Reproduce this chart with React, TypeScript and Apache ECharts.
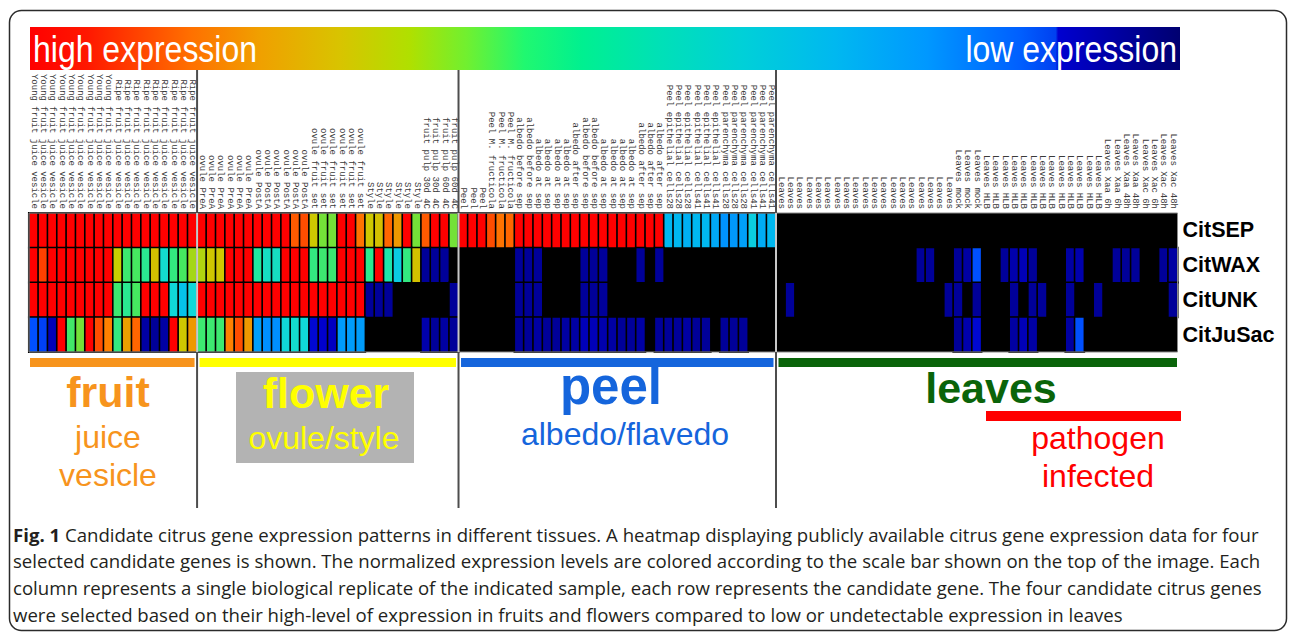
import React, { useEffect, useRef } from "react";
import * as echarts from "echarts";

// "not detected" cells are drawn black
const ND = null;

const genes = ["CitSEP", "CitWAX", "CitUNK", "CitJuSac"];

const rep = (s: string, n: number): string[] => Array(n).fill(s);

const fruitLabels = [...rep("Young fruit juice vesicle", 9), ...rep("Ripe fruit juice vesicle", 9)];
const flowerLabels = [
  ...rep("ovule PreA", 6),
  ...rep("ovule PostA", 6),
  ...rep("ovule fruit set", 6),
  ...rep("Style", 6),
  "fruit pulp 30d 4C", "fruit pulp 30d 4C", "fruit pulp 60d 4C", "fruit pulp 60d 4C",
];
const peelLabels = [
  "Peel", "Peel", "Peel",
  "Peel M. fructicola", "Peel M. fructicola", "Peel M. fructicola",
  "albedo before sep", "albedo before sep", "albedo at sep", "albedo at sep", "albedo at sep", "albedo at sep",
  "albedo after sep", "albedo before sep", "albedo before sep", "albedo at sep", "albedo at sep", "albedo at sep",
  "albedo at sep", "albedo after sep", "albedo after sep", "albedo after sep",
  ...rep("Peel epithelial cells28", 3),
  ...rep("Peel epithelial cells41", 3),
  ...rep("Peel parenchyma cells28", 3),
  ...rep("Peel parenchyma cells41", 3),
];
const leavesLabels = [
  ...rep("Leaves", 19),
  ...rep("Leaves mock", 3),
  ...rep("Leaves HLB", 13),
  "Leaves Xaa 6h", "Leaves Xaa 6h", "Leaves Xaa 48h", "Leaves Xaa 48h",
  "Leaves Xac 6h", "Leaves Xac 6h", "Leaves Xac 48h", "Leaves Xac 48h",
];
const sampleLabels = [...fruitLabels, ...flowerLabels, ...peelLabels, ...leavesLabels];

// normalized expression (0 = lowest, 100 = highest)
const fruitSEP = [100, 100, 100, 100, 100, 100, 100, 100, 100, 100, 100, 100, 100, 100, 100, 100, 100, 100];
const fruitWAX = [100, 95, 100, 100, 100, 100, 100, 100, 100, 80, 66, 68, 62, 82, 52, 64, 68, 77];
const fruitUNK = [100, 100, 100, 100, 100, 100, 100, 100, 100, 66, 62, 68, 100, 100, 100, 50, 43, 50];
const fruitJuSac = [20, 18, 8, 100, 67, 73, 100, 94, 90, 64, 86, 92, 6, 5, 6, 100, 81, 87];

const flowerSEP = [100, 100, 100, 100, 100, 100, 100, 100, 100, 100, 93, 94, 81, 73, 73, 100, 100, 91, 81, 82, 92, 87, 100, 73, 93, 100, 100, 73];
const flowerWAX = [78, 81, 81, 100, 100, 100, 60, 54, 54, 100, 100, 100, 64, 66, 66, 100, 100, 100, 62, 100, 58, 46, 64, 82, 5, 5, 5, ND];
const flowerUNK = [100, 100, 100, 100, 100, 100, 100, 100, 100, 100, 100, 100, 100, 100, 100, 100, 100, 100, 5, 5, 5, ND, ND, ND, ND, ND, ND, 5];
const flowerJuSac = [66, 66, 66, 90, 94, 87, 34, 30, 30, 50, 52, 50, 11, 10, 9, 33, 33, 33, ND, ND, ND, ND, ND, ND, 7, 5, 6, 5];

const peelSEP = [100, 100, 100, 94, 91, 92, 100, 100, 100, 100, 100, 100, 100, 100, 100, 100, 100, 100, 100, 100, 100, 100, 40, 40, 38, 40, 40, 36, 31, 32, 34, 47, 37, 40];
const peelWAX = [ND, ND, ND, ND, ND, ND, 5, 5, 5, ND, ND, ND, ND, 5, 5, 5, ND, ND, ND, 5, ND, 5, ND, ND, ND, ND, ND, ND, ND, ND, ND, ND, ND, ND];
const peelUNK = [ND, ND, ND, ND, ND, ND, 5, 5, 5, ND, ND, ND, ND, 5, 5, 5, ND, ND, ND, ND, ND, ND, ND, ND, ND, ND, ND, ND, ND, ND, ND, ND, ND, ND];
const peelJuSac = [ND, ND, ND, ND, ND, ND, 5, 5, 6, 5, 5, 6, 6, 8, 8, 7, 6, 5, 5, 6, ND, 5, 5, 5, 6, 5, 5, ND, 5, 5, 5, ND, ND, ND];

const leavesSEP = [ND, ND, ND, ND, ND, ND, ND, ND, ND, ND, ND, ND, ND, ND, ND, ND, ND, ND, ND, ND, ND, ND, ND, ND, ND, ND, ND, ND, ND, ND, ND, ND, ND, ND, ND, ND, ND, ND, ND, ND, ND, ND, ND];
const leavesWAX = [ND, ND, ND, ND, ND, ND, ND, ND, ND, ND, ND, ND, ND, ND, ND, 5, 5, ND, ND, 5, 6, 20, ND, ND, 5, 7, 8, 5, ND, ND, ND, 6, 7, ND, ND, ND, 5, 5, 5, ND, ND, 5, 6];
const leavesUNK = [ND, 5, ND, ND, ND, ND, ND, ND, ND, ND, ND, ND, ND, ND, ND, ND, ND, ND, 5, 5, ND, 5, ND, ND, ND, 5, ND, 5, 5, ND, ND, 5, ND, ND, 5, ND, ND, ND, ND, ND, ND, ND, 5];
const leavesJuSac = [ND, ND, ND, ND, ND, ND, ND, ND, ND, ND, ND, ND, ND, ND, ND, ND, ND, ND, ND, 5, 7, 11, ND, ND, ND, 6, 8, 6, ND, ND, ND, 6, 20, ND, ND, ND, ND, ND, ND, ND, ND, ND, ND];

const rows = [
  [...fruitSEP, ...flowerSEP, ...peelSEP, ...leavesSEP],
  [...fruitWAX, ...flowerWAX, ...peelWAX, ...leavesWAX],
  [...fruitUNK, ...flowerUNK, ...peelUNK, ...leavesUNK],
  [...fruitJuSac, ...flowerJuSac, ...peelJuSac, ...leavesJuSac],
];

const sections = [
  { title: "fruit", sub: ["juice", "vesicle"], count: fruitLabels.length, color: "#f7941d" },
  { title: "flower", sub: ["ovule/style"], count: flowerLabels.length, color: "#ffff00" },
  { title: "peel", sub: ["albedo/flavedo"], count: peelLabels.length, color: "#1565dc" },
  { title: "leaves", sub: [], count: leavesLabels.length, color: "#0a640a" },
];

const captionLines = [
  "{b|Fig. 1} Candidate citrus gene expression patterns in different tissues. A heatmap displaying publicly available citrus gene expression data for four",
  "selected candidate genes is shown. The normalized expression levels are colored according to the scale bar shown on the top of the image. Each",
  "column represents a single biological replicate of the indicated sample, each row represents the candidate gene. The four candidate citrus genes",
  "were selected based on their high-level of expression in fruits and flowers compared to low or undetectable expression in leaves",
];

const scaleColors = ["#000066", "#0000cc", "#0050ff", "#0090ff", "#00b8f0", "#10d8d8", "#20e8a0", "#50e850", "#c8d000", "#ff8000", "#ff0000"];

const GRID = { left: 29, top: 213, width: 1148.5, height: 139 };

export default function App() {
  const ref = useRef<HTMLDivElement>(null);
  useEffect(() => {
    if (!ref.current) return;
    const chart = echarts.init(ref.current, undefined, { renderer: "svg" });
    const N = sampleLabels.length;
    const colW = GRID.width / N;
    const data: any[] = [];
    rows.forEach((r, yi) => r.forEach((v, xi) => data.push([xi, yi, v === null ? "-" : v])));

    const sans = "Liberation Sans, Arial, sans-serif";
    const capFont = "Open Sans, sans-serif";
    const capSize = 18.6;
    const graphics: any[] = [];

    // outer rounded frame
    graphics.push({
      type: "rect", shape: { x: 9.5, y: 10.5, width: 1277, height: 620, r: 12 },
      style: { fill: "none", stroke: "#2b2b2b", lineWidth: 1.5 }, z: 1,
    });
    // colour scale bar
    graphics.push({
      type: "rect", shape: { x: 30, y: 27, width: 1150, height: 43 }, z: 1,
      style: {
        fill: new echarts.graphic.LinearGradient(0, 0, 1, 0, [
          { offset: 0, color: "#ff0000" },
          { offset: 0.05, color: "#ff1800" },
          { offset: 0.14, color: "#ff7000" },
          { offset: 0.2, color: "#f0a000" },
          { offset: 0.27, color: "#d8c400" },
          { offset: 0.33, color: "#b0e000" },
          { offset: 0.38, color: "#70f030" },
          { offset: 0.43, color: "#20f870" },
          { offset: 0.48, color: "#00f090" },
          { offset: 0.55, color: "#00e0b8" },
          { offset: 0.62, color: "#00d0d8" },
          { offset: 0.7, color: "#00b8f0" },
          { offset: 0.78, color: "#0098ff" },
          { offset: 0.86, color: "#0060ff" },
          { offset: 0.892, color: "#0040f0" },
          { offset: 0.894, color: "#0000d0" },
          { offset: 1, color: "#000070" },
        ]),
      },
    });
    graphics.push({
      type: "text", x: 33, y: 49, z: 2, scaleY: 1.18,
      style: { text: "high expression", fill: "#fff", fontSize: 32, fontFamily: sans, align: "left", verticalAlign: "middle" },
    });
    graphics.push({
      type: "text", x: 1177, y: 49, z: 2, scaleY: 1.18,
      style: { text: "low expression", fill: "#fff", fontSize: 32, fontFamily: sans, align: "right", verticalAlign: "middle" },
    });

    // heatmap outline
    graphics.push({
      type: "rect", shape: { x: GRID.left, y: GRID.top, width: GRID.width, height: GRID.height }, z: 20,
      style: { fill: "none", stroke: "#8a8a8a", lineWidth: 1 },
    });

    // section separators and bars
    let startIdx = 0;
    const bounds: number[] = [];
    sections.forEach((s, i) => {
      const x0 = GRID.left + colW * startIdx;
      const x1 = GRID.left + colW * (startIdx + s.count);
      if (i > 0) bounds.push(x0);
      graphics.push({
        type: "rect", z: 5,
        shape: { x: i === 0 ? x0 + 1 : x0 + 2.5, y: 358, width: (x1 - x0) - (i === 0 ? 3.5 : i === sections.length - 1 ? 3 : 5), height: 9 },
        style: { fill: s.color },
      });
      startIdx += s.count;
    });
    bounds.forEach((bx) => {
      graphics.push({ type: "line", z: 25, shape: { x1: bx, y1: 70, x2: bx, y2: GRID.top }, style: { stroke: "#4d4d4d", lineWidth: 2 } });
      graphics.push({ type: "line", z: 25, shape: { x1: bx, y1: GRID.top, x2: bx, y2: GRID.top + GRID.height }, style: { stroke: "#c8c8c8", lineWidth: 2 } });
      graphics.push({ type: "line", z: 25, shape: { x1: bx, y1: GRID.top + GRID.height, x2: bx, y2: 508 }, style: { stroke: "#4d4d4d", lineWidth: 2 } });
    });

    // grey box behind flower
    graphics.push({ type: "rect", z: 3, shape: { x: 236, y: 372, width: 178, height: 91 }, style: { fill: "#b3b3b3" } });
    // pathogen bar
    graphics.push({ type: "rect", z: 5, shape: { x: 986, y: 411, width: 195, height: 10 }, style: { fill: "#ff0000" } });

    const titleSpecs = [
      { x: 108, y: 392, size: 43 },
      { x: 326, y: 393, size: 43 },
      { x: 611, y: 386, size: 51 },
      { x: 991, y: 388, size: 43 },
    ];
    const subSpecs = [
      [{ x: 108, y: 437 }, { x: 108, y: 475 }],
      [{ x: 324, y: 438 }],
      [{ x: 625, y: 434 }],
      [],
    ];
    sections.forEach((s, i) => {
      const t = titleSpecs[i];
      graphics.push({
        type: "text", x: t.x, y: t.y, z: 6,
        style: { text: s.title, fill: s.color, fontSize: t.size, fontWeight: "bold", fontFamily: sans, align: "center", verticalAlign: "middle" },
      });
      s.sub.forEach((line, j) => {
        const p = subSpecs[i][j];
        graphics.push({
          type: "text", x: p.x, y: p.y, z: 6,
          style: { text: line, fill: s.color, fontSize: 32, fontFamily: sans, align: "center", verticalAlign: "middle" },
        });
      });
    });
    ["pathogen", "infected"].forEach((line, j) => {
      graphics.push({
        type: "text", x: 1098, y: 438 + j * 38, z: 6,
        style: { text: line, fill: "#ff0000", fontSize: 32, fontFamily: sans, align: "center", verticalAlign: "middle" },
      });
    });

    // caption
    captionLines.forEach((line, i) => {
      graphics.push({
        type: "text", x: 13, y: 534 + i * 26.7, z: 6,
        style: {
          text: line, fill: "#231f20", fontSize: capSize, fontFamily: capFont,
          align: "left", verticalAlign: "middle",
          rich: { b: { fontWeight: "bold", fontSize: capSize, fontFamily: capFont, fill: "#231f20" } },
        },
      });
    });

    chart.setOption({
      animation: false,
      backgroundColor: "#ffffff",
      grid: { ...GRID, show: true, backgroundColor: "#000000", borderWidth: 0, containLabel: false },
      xAxis: {
        type: "category",
        position: "top",
        data: sampleLabels,
        axisLine: { show: false },
        axisTick: { show: false },
        splitLine: { show: false },
        axisLabel: {
          interval: 0, rotate: 90, margin: 4, fontSize: 9,
          fontFamily: "Liberation Mono, DejaVu Sans Mono, monospace", color: "#3a3a3a",
        },
      },
      yAxis: {
        type: "category",
        position: "right",
        inverse: true,
        data: genes,
        axisLine: { show: false },
        axisTick: { show: false },
        splitLine: { show: false },
        axisLabel: { margin: 5, fontSize: 21.5, fontWeight: "bold", fontFamily: sans, color: "#000" },
      },
      visualMap: {
        type: "continuous", show: false, min: 0, max: 100, dimension: 2,
        inRange: { color: scaleColors },
        outOfRange: { color: "#000000" },
      },
      series: [
        {
          type: "heatmap",
          data,
          progressive: 0,
          itemStyle: { borderColor: "#000000", borderWidth: 1.6 },
          emphasis: { disabled: true },
        },
      ],
      graphic: { elements: graphics },
    });
    return () => chart.dispose();
  }, []);
  return <div ref={ref} style={{ position: "fixed", left: 0, top: 0, width: 1292, height: 632 }} />;
}
